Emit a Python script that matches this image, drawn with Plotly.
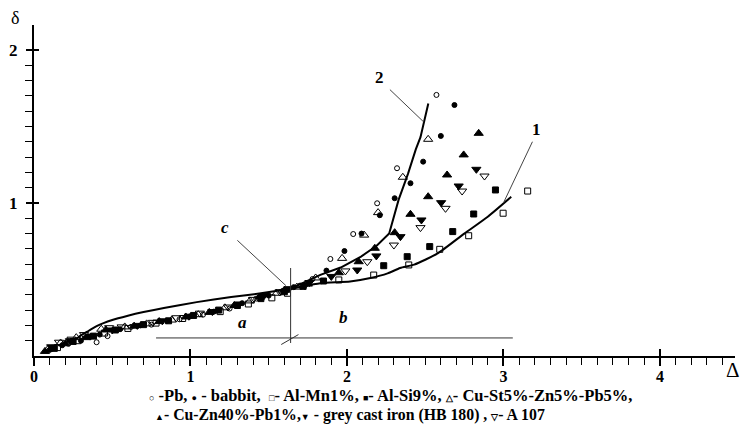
import plotly.graph_objects as go

# ---------------- data ----------------
pb_x = [0.12, 0.22, 0.40, 0.47, 0.62, 0.75, 0.93, 1.08, 1.25, 1.42, 1.58, 1.70, 1.78, 1.894, 2.04, 2.193, 2.32, 2.572]
pb_y = [0.05, 0.08, 0.09, 0.13, 0.19, 0.205, 0.24, 0.27, 0.31, 0.375, 0.42, 0.46, 0.503, 0.634, 0.797, 0.998, 1.227, 1.706]

babbit_x = [0.10, 0.18, 0.30, 0.42, 0.55, 0.68, 0.85, 1.00, 1.15, 1.33, 1.50, 1.66, 1.869, 1.984, 2.093, 2.21, 2.305, 2.406, 2.487, 2.60, 2.687]
babbit_y = [0.04, 0.07, 0.10, 0.14, 0.175, 0.20, 0.23, 0.26, 0.29, 0.345, 0.395, 0.45, 0.558, 0.686, 0.80, 0.92, 1.031, 1.129, 1.27, 1.438, 1.64]

almn_x = [0.15, 0.28, 0.45, 0.60, 0.78, 0.95, 1.19, 1.37, 1.52, 1.62, 1.948, 2.171, 2.395, 2.593, 2.778, 2.998, 3.155]
almn_y = [0.055, 0.10, 0.15, 0.18, 0.215, 0.245, 0.29, 0.34, 0.38, 0.41, 0.497, 0.529, 0.595, 0.697, 0.786, 0.933, 1.078]

alsi_x = [0.13, 0.25, 0.38, 0.52, 0.70, 0.86, 1.02, 1.18, 1.30, 1.45, 1.60, 1.72, 1.85, 2.235, 2.385, 2.529, 2.676, 2.81, 2.949]
alsi_y = [0.05, 0.095, 0.13, 0.17, 0.205, 0.23, 0.265, 0.30, 0.33, 0.375, 0.42, 0.455, 0.49, 0.59, 0.649, 0.715, 0.813, 0.928, 1.085]

cust_x = [0.09, 0.17, 0.27, 0.43, 0.58, 0.72, 0.88, 1.05, 1.22, 1.38, 1.55, 1.68, 1.80, 1.969, 2.11, 2.199, 2.357, 2.519]
cust_y = [0.045, 0.085, 0.12, 0.175, 0.19, 0.21, 0.235, 0.27, 0.315, 0.36, 0.41, 0.45, 0.51, 0.638, 0.79, 0.937, 1.168, 1.416]

cuzn_x = [0.07, 0.20, 0.33, 0.46, 0.64, 0.80, 0.97, 1.12, 1.28, 1.44, 1.60, 1.75, 1.948, 2.075, 2.178, 2.305, 2.406, 2.519, 2.64, 2.746, 2.842]
cuzn_y = [0.03, 0.08, 0.12, 0.17, 0.195, 0.225, 0.255, 0.285, 0.33, 0.385, 0.43, 0.47, 0.544, 0.616, 0.704, 0.806, 0.926, 1.041, 1.183, 1.314, 1.455]

grey_x = [0.11, 0.23, 0.36, 0.50, 0.66, 0.82, 0.99, 1.14, 1.31, 1.47, 1.63, 1.76, 1.90, 2.066, 2.188, 2.342, 2.476, 2.602, 2.714, 2.827]
grey_y = [0.06, 0.10, 0.13, 0.17, 0.20, 0.23, 0.26, 0.29, 0.34, 0.395, 0.44, 0.48, 0.52, 0.562, 0.654, 0.78, 0.889, 1.002, 1.111, 1.22]

a107_x = [0.16, 0.24, 0.32, 0.48, 0.56, 0.76, 0.91, 1.06, 1.24, 1.40, 1.57, 1.73, 1.99, 2.13, 2.30, 2.47, 2.63, 2.736, 2.879]
a107_y = [0.09, 0.11, 0.14, 0.185, 0.19, 0.22, 0.25, 0.28, 0.32, 0.37, 0.42, 0.46, 0.556, 0.616, 0.725, 0.839, 0.965, 1.078, 1.176]

curve1_x = [0.27, 0.30, 0.35, 0.40, 0.50, 0.60, 0.70, 0.83, 1.04, 1.26, 1.45, 1.64, 1.83, 2.02, 2.15, 2.26, 2.34, 2.43, 2.58, 2.75, 2.90, 3.05]
curve1_y = [0.11, 0.135, 0.165, 0.195, 0.235, 0.263, 0.287, 0.314, 0.352, 0.385, 0.41, 0.44, 0.475, 0.487, 0.51, 0.54, 0.575, 0.597, 0.671, 0.80, 0.91, 1.04]

curve2_x = [1.64, 1.75, 1.83, 1.96, 2.09, 2.19, 2.27, 2.33, 2.39, 2.44, 2.47, 2.52]
curve2_y = [0.44, 0.49, 0.53, 0.578, 0.65, 0.72, 0.80, 1.02, 1.19, 1.35, 1.43, 1.65]

x_ticks = [0, 1, 2, 3, 4]
y_ticks = [1, 2]
y_minor = [0.1, 0.2, 0.3, 0.4, 0.5, 0.6, 0.7, 0.8, 0.9, 1.1, 1.2, 1.3, 1.4, 1.5, 1.6, 1.7, 1.8, 1.9]

S = "<span style='font-size:9px'>{}</span>"
legend_line1 = (S.format("○") + " -Pb, " + S.format("●") + " - babbit,  " + S.format("□") + "- Al-Mn1%, "
                + S.format("■") + "- Al-Si9%, " + S.format("△") + "- Cu-St5%-Zn5%-Pb5%,")
legend_line2 = (S.format("▲") + "- Cu-Zn40%-Pb1%," + S.format("▼") + " - grey cast iron (HB 180) , "
                + S.format("▽") + "- A 107")

SERIF = "Liberation Serif"
X_MAX = 4.48
Y_MAX = 2.163

fig = go.Figure()

def add_pts(xs, ys, symbol, size, name):
    fig.add_trace(go.Scatter(x=xs, y=ys, mode="markers", name=name,
                             marker=dict(symbol=symbol, size=size, color="black",
                                         line=dict(color="black", width=1)),
                             cliponaxis=False, showlegend=False))

fig.add_trace(go.Scatter(x=curve1_x, y=curve1_y, mode="lines",
                         line=dict(color="black", width=2, shape="spline", smoothing=0.6),
                         showlegend=False))
fig.add_trace(go.Scatter(x=curve2_x, y=curve2_y, mode="lines",
                         line=dict(color="black", width=2),
                         showlegend=False))

add_pts(pb_x, pb_y, "circle-open", 5, "Pb")
add_pts(babbit_x, babbit_y, "circle", 5, "babbit")
add_pts(almn_x, almn_y, "square-open", 6, "Al-Mn1%")
add_pts(alsi_x, alsi_y, "square", 6, "Al-Si9%")
add_pts(cust_x, cust_y, "triangle-up-open", 8, "Cu-St5%-Zn5%-Pb5%")
add_pts(cuzn_x, cuzn_y, "triangle-up", 8, "Cu-Zn40%-Pb1%")
add_pts(grey_x, grey_y, "triangle-down", 8, "grey cast iron (HB 180)")
add_pts(a107_x, a107_y, "triangle-down-open", 8, "A 107")

# dummy invisible traces to create overlay axes
fig.add_trace(go.Scatter(x=[0], y=[0], xaxis="x2", yaxis="y", mode="markers",
                         marker=dict(opacity=0), hoverinfo="skip", showlegend=False))
fig.add_trace(go.Scatter(x=[0], y=[0], xaxis="x", yaxis="y2", mode="markers",
                         marker=dict(opacity=0), hoverinfo="skip", showlegend=False))

# measurement lines a / b
fig.add_shape(type="line", x0=0.78, x1=3.06, y0=0.118, y1=0.118, line=dict(color="#333", width=1))
fig.add_shape(type="line", x0=1.64, x1=1.64, y0=0.085, y1=0.575, line=dict(color="#333", width=1))
fig.add_shape(type="line", x0=1.58, x1=1.69, y0=0.075, y1=0.14, line=dict(color="#333", width=1))

ann_font = dict(family=SERIF, size=17, color="black")
# leader lines
for (x, y, ax, ay) in [(1.61, 0.46, 1.29, 0.765), (2.49, 1.53, 2.265, 1.75), (3.0, 1.0, 3.19, 1.41)]:
    fig.add_annotation(x=x, y=y, ax=ax, ay=ay, xref="x", yref="y", axref="x", ayref="y",
                       text="", showarrow=True, arrowhead=0, arrowwidth=1, arrowcolor="#444")

fig.add_annotation(x=1.22, y=0.84, text="<b><i>c</i></b>", showarrow=False, font=ann_font)
fig.add_annotation(x=1.33, y=0.22, text="<b><i>a</i></b>", showarrow=False, font=ann_font)
fig.add_annotation(x=1.98, y=0.25, text="<b><i>b</i></b>", showarrow=False, font=ann_font)
fig.add_annotation(x=2.21, y=1.82, text="<b>2</b>", showarrow=False, font=ann_font)
fig.add_annotation(x=3.21, y=1.48, text="<b>1</b>", showarrow=False, font=ann_font)

fig.add_annotation(xref="paper", yref="paper", x=1.0095, y=-0.042, xanchor="right", yanchor="middle",
                   text="Δ", showarrow=False, font=dict(family=SERIF, size=21, color="black"))
fig.add_annotation(xref="paper", yref="paper", x=-0.0264, y=1.021, xanchor="center", yanchor="middle",
                   text="δ", showarrow=False, font=dict(family=SERIF, size=18, color="black"))

fig.add_annotation(xref="paper", yref="paper", x=0.508, y=-0.118, xanchor="center", yanchor="middle",
                   text="<b>" + legend_line1 + "</b>",
                   showarrow=False, font=dict(family=SERIF, size=16.5, color="black"))
fig.add_annotation(xref="paper", yref="paper", x=0.451, y=-0.177, xanchor="center", yanchor="middle",
                   text="<b>" + legend_line2 + "</b>",
                   showarrow=False, font=dict(family=SERIF, size=15.8, color="black"))

# page has an 8px body margin: size the figure so the page needs no scrollbars
fig.update_layout(
    width=734, height=418,
    margin=dict(l=25.5, r=7, t=17, b=70, autoexpand=False),
    paper_bgcolor="white", plot_bgcolor="white",
    showlegend=False,
    xaxis=dict(range=[0, X_MAX], showgrid=False, zeroline=False, automargin=False,
               showline=True, linecolor="black", linewidth=2,
               tickmode="array", tickvals=x_ticks, ticks="outside", ticklen=8,
               tickwidth=2, tickcolor="black",
               tickfont=dict(family=SERIF, size=16, color="black", weight="bold"),
               ticklabelstandoff=-3,
               minor=dict(dtick=0.1, tick0=0, ticks="outside", ticklen=7, tickwidth=1, tickcolor="black"),
               fixedrange=True),
    xaxis2=dict(range=[0, X_MAX], overlaying="x", anchor="y", side="bottom", automargin=False,
                showgrid=False, zeroline=False, showline=False, showticklabels=False,
                tickmode="array", tickvals=[1, 2, 3, 4], ticks="inside", ticklen=7,
                tickwidth=2, tickcolor="black"),
    yaxis=dict(range=[0, Y_MAX], showgrid=False, zeroline=False, automargin=False,
               showline=True, linecolor="black", linewidth=2,
               tickmode="array", tickvals=y_ticks, ticks="outside", ticklen=6,
               tickwidth=2, tickcolor="black",
               tickfont=dict(family=SERIF, size=17, color="black", weight="bold"),
               ticklabelstandoff=5,
               minor=dict(tickvals=y_minor, ticks="outside", ticklen=7, tickwidth=1, tickcolor="black"),
               fixedrange=True),
    yaxis2=dict(range=[0, Y_MAX], overlaying="y", anchor="x", side="left", automargin=False,
                showgrid=False, zeroline=False, showline=False, showticklabels=False,
                tickmode="array", tickvals=y_ticks, ticks="inside", ticklen=5,
                tickwidth=2, tickcolor="black"),
)

fig.write_html("out.html")
